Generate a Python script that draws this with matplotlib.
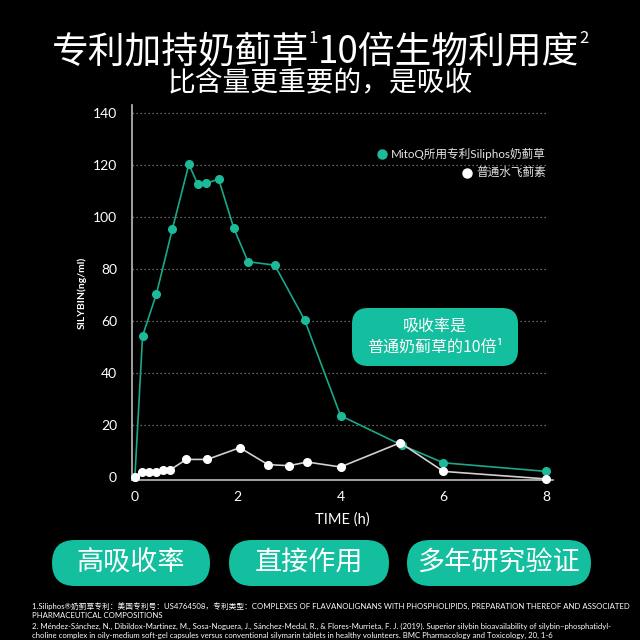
import matplotlib
matplotlib.use("Agg")
import matplotlib.pyplot as plt
from matplotlib.patches import FancyBboxPatch

plt.rcParams['font.family'] = ['Noto Sans CJK SC', 'DejaVu Sans']

# data
t_mitoq = [0, 0.15, 0.42, 0.73, 1.05, 1.22, 1.38, 1.63, 1.92, 2.2, 2.72, 3.3, 4.0, 5.2, 6.0, 8.0]
c_mitoq = [0, 54.3, 70.5, 95.4, 120.2, 112.7, 112.9, 114.5, 95.9, 82.8, 81.5, 60.5, 23.7, 12.3, 5.6, 2.3]
t_plain = [0, 0.14, 0.28, 0.41, 0.54, 0.68, 1.0, 1.41, 2.04, 2.59, 3.0, 3.35, 4.0, 5.16, 6.0, 8.0]
c_plain = [0, 1.9, 2.2, 2.2, 2.8, 2.8, 6.9, 6.9, 11.4, 4.9, 4.5, 5.9, 4.0, 13.3, 2.3, -0.6]
y_ticks = [0, 20, 40, 60, 80, 100, 120, 140]
x_ticks = [0, 2, 4, 6, 8]
legend_labels = ['MitoQ所用专利Siliphos奶蓟草', '普通水飞蓟素']
buttons = ['高吸收率', '直接作用', '多年研究验证']
title_parts = ['专利加持奶蓟草', '1', '10倍生物利用度', '2']

TEAL = '#1aa88b'
TEAL_MK = '#1cba98'
BTN = '#13bf9e'
LATIN = ['Lato', 'Noto Sans CJK SC', 'DejaVu Sans']

fig = plt.figure(figsize=(6.4, 6.4), dpi=100, facecolor='black')
ax = fig.add_axes([0.2067, 0.25, 0.6573, 0.586])
ax.set_facecolor('black')

ax.set_xlim(-0.05, 8.13)
ax.set_ylim(-1, 143)

for yv in y_ticks[1:]:
    ax.plot([-0.05, 8.0], [yv, yv], color='#8a8a8a', lw=0.9, ls=(0, (1, 2.2)), zorder=1)

ax.plot(t_mitoq, c_mitoq, color=TEAL, lw=1.2, marker='o', ms=5.5,
        mfc=TEAL_MK, mec=TEAL_MK, zorder=3, clip_on=False)
ax.plot(t_plain, c_plain, color='#d0d0d0', lw=1.2, marker='o', ms=5.5,
        mfc='white', mec='white', zorder=4, clip_on=False)

for s in ['top', 'right']:
    ax.spines[s].set_visible(False)
for s in ['left', 'bottom']:
    ax.spines[s].set_color('#bdbdbd')
    ax.spines[s].set_linewidth(1.2)

ax.set_yticks(y_ticks)
ax.set_xticks(x_ticks)
ax.tick_params(length=0, colors='white', labelsize=10, pad=11)
for lab in ax.get_xticklabels() + ax.get_yticklabels():
    lab.set_family(LATIN)
ax.tick_params(axis='x', pad=8)

ax.set_xlabel('TIME (h)', color='white', fontsize=10.5, family=LATIN, labelpad=7)
ax.set_ylabel('SILYBIN(ng/ml)', color='white', fontsize=7.5, family=LATIN,
              fontweight='bold', labelpad=4)

fig.canvas.draw()
renderer = fig.canvas.get_renderer()

# title with small superscripts, laid out piece by piece and centred
sizes = [26.5, 12, 26.5, 12]
rises = [0, 19, 0, 19]
ty = 1 - 62 / 640
pieces = []
for txt, fs in zip(title_parts, sizes):
    pieces.append(fig.text(0, ty, txt, ha='left', va='baseline', color='white',
                           fontsize=fs, fontweight='light'))
widths = [p.get_window_extent(renderer).width for p in pieces]
x = (640 - sum(widths)) / 2
for p, w, r in zip(pieces, widths, rises):
    p.set_position((x / 640, ty + r / 640))
    x += w

fig.text(0.5, 1 - 83 / 640, '比含量更重要的，是吸收', ha='center', va='center',
         color='white', fontsize=20, fontweight='medium')

# legend, right aligned text with marker in front
leg_y = [1 - 154 / 640, 1 - 172.5 / 640]
leg_colors = [TEAL_MK, 'white']
for lab, yy, col in zip(legend_labels, leg_y, leg_colors):
    tx = fig.text(546 / 640, yy, lab, ha='right', va='center', color='#e6e6e6',
                  fontsize=8.4, family=LATIN)
    bb = tx.get_window_extent(renderer)
    fig.add_artist(plt.Line2D([(bb.x0 - 9) / 640], [yy], marker='o', ms=6.5,
                              color=col, transform=fig.transFigure))

# bubble annotation
bx0, by0, bw, bh = 352 / 640, 1 - 366 / 640, 166 / 640, 58 / 640
fig.patches.append(FancyBboxPatch((bx0, by0), bw, bh, boxstyle='round,pad=0,rounding_size=0.025',
                                  fc=BTN, ec='none', transform=fig.transFigure, zorder=5))
fig.text(bx0 + bw / 2, 1 - 326 / 640, '吸收率是', ha='center', va='center',
         color='white', fontsize=11.5, zorder=6)
fig.text(bx0 + bw / 2, 1 - 347 / 640, '普通奶蓟草的10倍¹', ha='center', va='center',
         color='white', fontsize=11.5, zorder=6)

# pill buttons
btn_x = [(52, 210), (229, 389), (407, 591)]
for (x0, x1), lab in zip(btn_x, buttons):
    y0, y1 = 540, 586
    h = (y1 - y0) / 640
    fig.patches.append(FancyBboxPatch((x0 / 640, 1 - y1 / 640), (x1 - x0) / 640, h,
                                      boxstyle='round,pad=0,rounding_size=%f' % (h / 2),
                                      fc=BTN, ec='none', transform=fig.transFigure))
    fig.text((x0 + x1) / 2 / 640, 1 - (y0 + y1) / 2 / 640, lab, ha='center', va='center',
             color='white', fontsize=19.5)

# footnotes
notes = [
    '1.Siliphos®奶蓟草专利：美国专利号：US4764508，专利类型：COMPLEXES OF FLAVANOLIGNANS WITH PHOSPHOLIPIDS, PREPARATION THEREOF AND ASSOCIATED',
    'PHARMACEUTICAL COMPOSITIONS',
    '2. Méndez-Sánchez, N., Dibildox-Martinez, M., Sosa-Noguera, J., Sánchez-Medal, R., & Flores-Murrieta, F. J. (2019). Superior silybin bioavailability of silybin–phosphatidyl-',
    'choline complex in oily-medium soft-gel capsules versus conventional silymarin tablets in healthy volunteers. BMC Pharmacology and Toxicology, 20, 1-6',
]
note_y = [606, 615.5, 626, 635.5]
for txt, yy in zip(notes, note_y):
    fig.text(32 / 640, 1 - yy / 640, txt, ha='left', va='center', color='white',
             fontsize=5.55, family=LATIN)

fig.savefig('out.png', dpi=100, facecolor='black')
